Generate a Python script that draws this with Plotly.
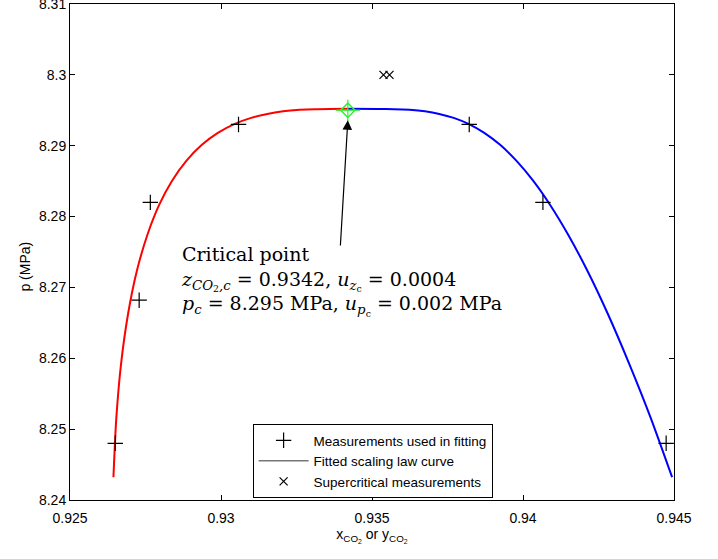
import plotly.graph_objects as go

# Measurements used in fitting
meas_x = [0.9265, 0.92729, 0.92766, 0.93058, 0.93822, 0.94066, 0.94474]
meas_p = [8.248, 8.2682, 8.282, 8.293, 8.293, 8.282, 8.248]

# Supercritical measurements
super_x = [0.93538, 0.93558]
super_p = [8.300, 8.300]

# Critical point and uncertainties
crit_x = [0.9342]
crit_p = [8.295]
crit_ux = [0.0004]
crit_up = [0.0015]

# Fitted scaling-law curve
curve_p = [8.29520, 8.29519, 8.29516, 8.29506, 8.29485, 8.29449, 8.29393, 8.29308,
           8.29181, 8.29012, 8.28786, 8.28503, 8.28164, 8.27740, 8.27232, 8.26625,
           8.25918, 8.25142, 8.24322]
# liquid side (red)
red_x = [0.934200, 0.933593, 0.933116, 0.932602, 0.932057, 0.931533, 0.930997, 0.930457,
         0.929895, 0.929366, 0.928852, 0.928375, 0.927952, 0.927561, 0.927213, 0.926922,
         0.926690, 0.926531, 0.926438]
# vapour side (blue)
blue_x = [0.934200, 0.935192, 0.935727, 0.936242, 0.936752, 0.937227, 0.937706, 0.938194,
          0.938718, 0.939242, 0.939786, 0.940341, 0.940899, 0.941501, 0.942136, 0.942811,
          0.943521, 0.944244, 0.944937]

x_ticks = [0.925, 0.93, 0.935, 0.94, 0.945]
x_ticktext = ["0.925", "0.93", "0.935", "0.94", "0.945"]
y_ticks = [8.24, 8.25, 8.26, 8.27, 8.28, 8.29, 8.30, 8.31]
y_ticktext = ["8.24", "8.25", "8.26", "8.27", "8.28", "8.29", "8.3", "8.31"]

x_title = "x<sub>CO<sub>2</sub></sub> or y<sub>CO<sub>2</sub></sub>"
y_title = "p (MPa)"

# Arrow from label to critical point
arrow_head = (0.9342, 8.2936)
arrow_tail = (0.93395, 8.2757)
label_pos = (0.92862, 8.2766)

SANS = "Liberation Sans, Arial, Helvetica, sans-serif"

fig = go.Figure()

fig.add_trace(go.Scatter(x=red_x, y=curve_p, mode="lines",
                         line=dict(color="#ff0000", width=2, shape="spline", smoothing=0.6),
                         showlegend=False, hoverinfo="skip"))
fig.add_trace(go.Scatter(x=blue_x, y=curve_p, mode="lines",
                         line=dict(color="#0000ff", width=2, shape="spline", smoothing=0.6),
                         showlegend=False, hoverinfo="skip"))

fig.add_trace(go.Scatter(x=meas_x, y=meas_p, mode="markers", name="Measurements used in fitting",
                         marker=dict(symbol="cross-thin-open", size=11, color="black",
                                     line=dict(color="black", width=1.2))))
fig.add_trace(go.Scatter(x=[None], y=[None], mode="lines", name="Fitted scaling law curve",
                         line=dict(color="#333333", width=1)))
fig.add_trace(go.Scatter(x=super_x, y=super_p, mode="markers", name="Supercritical measurements",
                         marker=dict(symbol="x-thin-open", size=8, color="black",
                                     line=dict(color="black", width=1.2))))

fig.add_trace(go.Scatter(x=crit_x, y=crit_p, mode="markers", showlegend=False,
                         marker=dict(symbol="diamond-open", size=11, color="#33ee33",
                                     line=dict(color="#33ee33", width=1.5)),
                         error_x=dict(type="data", array=crit_ux, color="#33ee33", thickness=1.2, width=0),
                         error_y=dict(type="data", array=crit_up, color="#33ee33", thickness=1.2, width=0)))

fig.add_annotation(x=arrow_head[0], y=arrow_head[1], ax=arrow_tail[0], ay=arrow_tail[1],
                   xref="x", yref="y", axref="x", ayref="y", text="", showarrow=True,
                   arrowhead=2, arrowsize=1.6, arrowwidth=1.2, arrowcolor="black")

label = ("Critical point<br>"
         "<i>z</i><sub><i>CO</i><sub>2</sub><i>,c</i></sub> = 0.9342, <i>u</i><sub><i>z</i><sub>c</sub></sub> = 0.0004<br>"
         "<i>p</i><sub><i>c</i></sub> = 8.295 MPa, <i>u</i><sub><i>p</i><sub>c</sub></sub> = 0.002 MPa")
fig.add_annotation(x=label_pos[0], y=label_pos[1], xref="x", yref="y", text=label, showarrow=False,
                   xanchor="left", yanchor="top", align="left",
                   font=dict(family="DejaVu Serif, serif", size=19, color="black"))

# y-axis title placed as rotated text left of the tick labels
fig.add_annotation(x=-0.075, y=0.47, xref="paper", yref="paper", text=y_title, textangle=-90,
                   showarrow=False, xanchor="center", yanchor="middle",
                   font=dict(family=SANS, size=14, color="black"))

axis_common = dict(showline=True, linecolor="black", linewidth=1, mirror="ticks", ticks="inside",
                   ticklen=5, tickcolor="black", showgrid=False, zeroline=False, automargin=False,
                   ticklabeloverflow="allow",
                   tickfont=dict(family=SANS, size=14, color="black"))

fig.update_xaxes(range=[0.925, 0.945], tickvals=x_ticks, ticktext=x_ticktext, ticklabelstandoff=5,
                 title=dict(text=x_title, font=dict(family=SANS, size=14, color="black"), standoff=4),
                 **axis_common)
fig.update_yaxes(range=[8.24, 8.31], tickvals=y_ticks, ticktext=y_ticktext,
                 **axis_common)

fig.update_layout(
    width=718, height=559,
    margin=dict(l=70, r=44, t=4, b=59),
    paper_bgcolor="white", plot_bgcolor="white",
    legend=dict(x=0.501, xanchor="center", y=0.0786, yanchor="middle",
                bordercolor="black", borderwidth=1, bgcolor="white",
                font=dict(family=SANS, size=13.5, color="black"),
                tracegroupgap=0, itemwidth=50),
)

fig.write_html("out.html", config={"displayModeBar": False},
               post_script="document.body.style.margin='0';document.body.style.overflow='hidden';")
